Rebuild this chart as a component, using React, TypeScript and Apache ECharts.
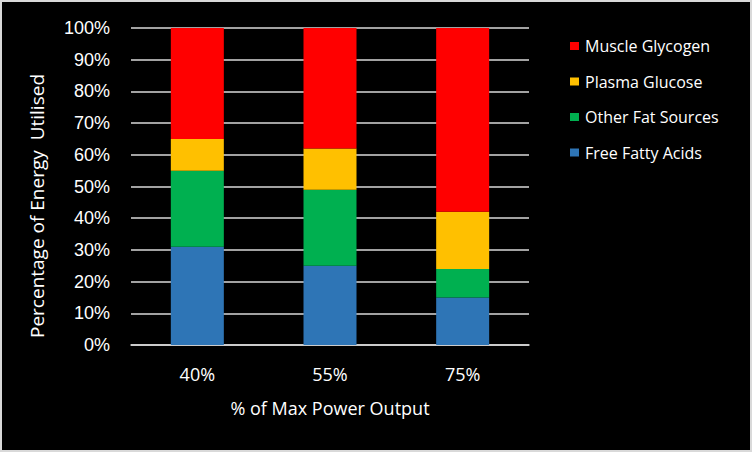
import React, { useEffect, useRef } from "react";
import * as echarts from "echarts";

const categories = ["40%", "55%", "75%"];
const freeFattyAcids = [31, 25, 15];
const otherFatSources = [24, 24, 9];
const plasmaGlucose = [10, 13, 18];
const muscleGlycogen = [35, 38, 58];
const legendOrder = ["Muscle Glycogen", "Plasma Glucose", "Other Fat Sources", "Free Fatty Acids"];
const yTitle = "Percentage of Energy  Utilised";
const xTitle = "% of Max Power Output";

export default function App() {
  const ref = useRef<HTMLDivElement>(null);
  useEffect(() => {
    document.body.style.margin = "0";
    const chart = echarts.init(ref.current!, null, { renderer: "svg" });
    const font = "'Liberation Sans', Arial, sans-serif";
    const calFont = "'Open Sans', sans-serif";
    const mk = (name: string, data: number[], color: string) => ({
      name,
      type: "bar",
      stack: "total",
      data,
      barWidth: 53,
      itemStyle: { color },
    });
    chart.setOption({
      animation: false,
      backgroundColor: "#000000",
      graphic: [
        {
          type: "rect",
          shape: { x: 1, y: 1, width: 750, height: 450 },
          style: { fill: "none", stroke: "#d9d9d9", lineWidth: 2 },
          silent: true,
        },
        {
          type: "text",
          x: 37,
          y: 206,
          rotation: Math.PI / 2,
          style: {
            text: yTitle,
            fill: "#ffffff",
            fontSize: 19,
            fontFamily: calFont,
            align: "center",
            verticalAlign: "middle",
          },
          silent: true,
        },
      ],
      grid: { left: 131, right: 223, top: 28, bottom: 107 },
      legend: {
        data: legendOrder,
        orient: "vertical",
        left: 565,
        top: 33,
        itemWidth: 9,
        itemHeight: 8,
        itemGap: 19.5,
        icon: "rect",
        textStyle: { color: "#ffffff", fontSize: 16, fontFamily: calFont, padding: [0, 0, 0, 1] },
      },
      xAxis: {
        type: "category",
        data: categories,
        axisLine: { show: true, lineStyle: { color: "#d9d9d9", width: 1.5 } },
        axisTick: { show: false },
        axisLabel: { color: "#ffffff", fontSize: 18, fontFamily: calFont, margin: 20 },
        name: xTitle,
        nameLocation: "middle",
        nameGap: 54,
        nameTextStyle: { color: "#ffffff", fontSize: 18, fontFamily: calFont },
      },
      yAxis: {
        type: "value",
        min: 0,
        max: 100,
        interval: 10,
        axisLine: { show: false },
        axisTick: { show: false },
        splitLine: { lineStyle: { color: "#d9d9d9", width: 1.5 } },
        axisLabel: {
          color: "#ffffff",
          fontSize: 18,
          fontFamily: font,
          margin: 21,
          formatter: (v: number) => v + "%",
        },
      },
      series: [
        mk("Free Fatty Acids", freeFattyAcids, "#2e75b6"),
        mk("Other Fat Sources", otherFatSources, "#00b050"),
        mk("Plasma Glucose", plasmaGlucose, "#ffc000"),
        mk("Muscle Glycogen", muscleGlycogen, "#ff0000"),
      ],
    });
    return () => chart.dispose();
  }, []);
  return <div ref={ref} style={{ width: 752, height: 452 }} />;
}
